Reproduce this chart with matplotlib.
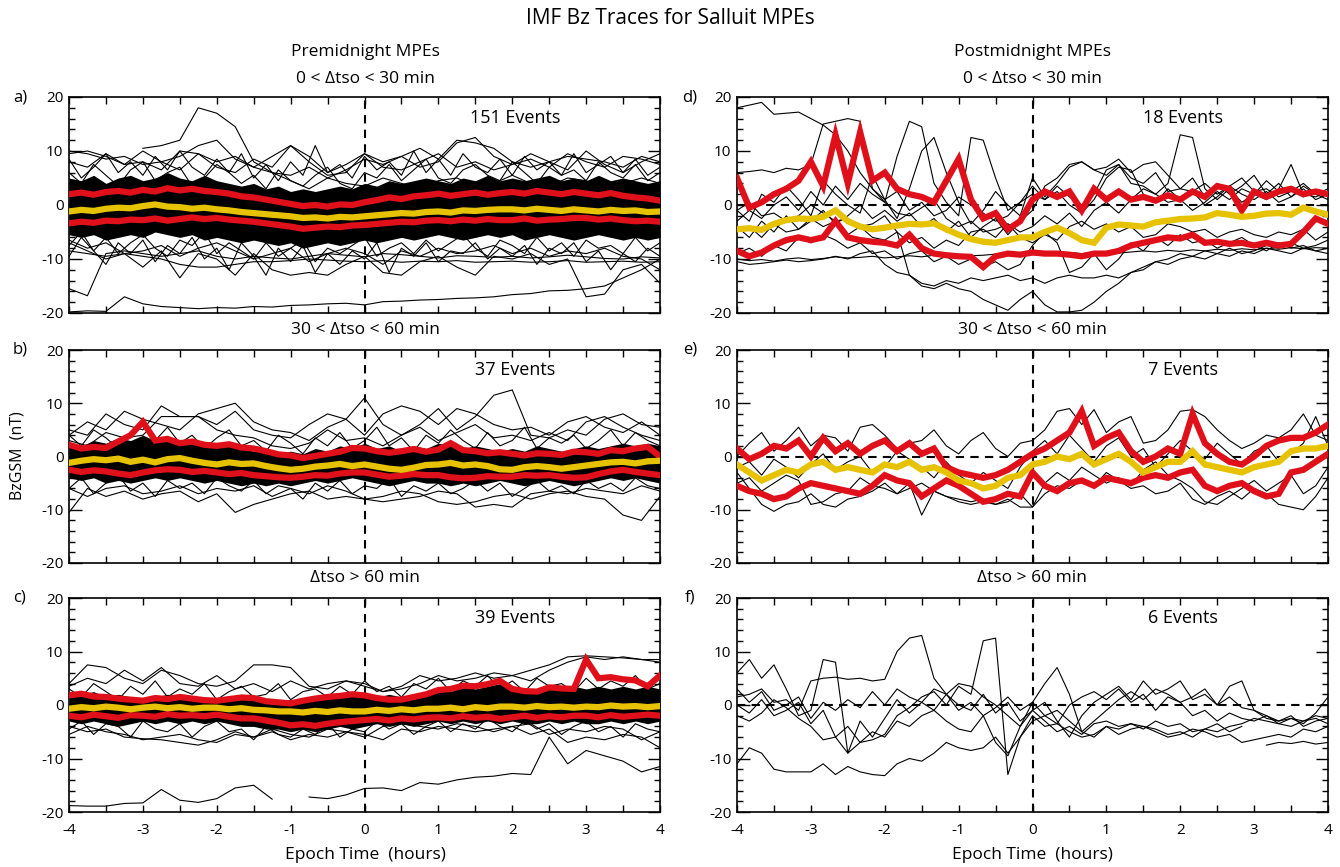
import numpy as np
import matplotlib
matplotlib.use('Agg')
import matplotlib.pyplot as plt
from matplotlib.ticker import MultipleLocator

plt.rcParams['font.family'] = ['Liberation Sans Narrow', 'Open Sans', 'DejaVu Sans']
plt.rcParams['axes.unicode_minus'] = False

nan = np.nan
# series are sampled evenly over -4..4 h: 33 values = 15 min steps, 49 values = 10 min steps

# ---------------- panel a : premidnight, 0 < dtso < 30 min ----------------
a_band_hi = [5.0, 4.5, 5.5, 4.0, 5.0, 5.5, 4.5, 5.0, 6.0, 5.0, 4.5, 5.5, 4.5, 4.0, 3.5, 4.0, 3.0, 3.5, 2.5, 3.0, 2.5, 3.0, 3.5, 3.0, 4.0, 3.5, 4.5, 4.0, 4.5, 5.0, 4.5, 4.0, 5.0, 4.5, 5.5, 4.5, 5.0, 4.5, 5.0, 5.5, 4.5, 5.0, 4.5, 5.5, 4.5, 5.0, 4.5, 4.0, 4.5]
a_band_lo = [-5.5, -6.0, -5.5, -6.5, -6.0, -5.5, -6.0, -5.0, -5.5, -6.0, -5.5, -6.5, -6.0, -6.5, -7.0, -6.5, -7.0, -7.5, -7.0, -8.0, -7.5, -7.0, -7.5, -7.0, -6.5, -7.0, -6.5, -6.0, -6.5, -6.0, -5.5, -6.0, -6.5, -6.0, -5.5, -6.0, -5.5, -6.5, -6.0, -5.5, -6.0, -6.5, -6.0, -5.5, -6.0, -6.5, -6.0, -6.5, -6.0]
a_tr1 = [10.0, 9.5, 8.5, 9.0, 7.5, 8.0, 9.0, 11.0, 12.0, 8.5, 7.0, 6.0, 5.5, 7.0, 5.0, 6.5, 8.5, 7.5, 9.0, 7.0, 8.0, 11.5, 12.5, 9.0, 7.5, 8.5, 7.0, 9.5, 8.0, 7.0, 9.0, 8.5, 7.5]
a_tr2 = [8.0, 7.0, 9.5, 7.5, 10.0, 8.0, 6.5, 9.5, 7.0, 6.0, 8.5, 7.0, 11.0, 8.0, 5.5, 6.0, 9.5, 7.0, 6.5, 8.0, 9.5, 7.0, 8.0, 6.5, 7.5, 9.5, 8.0, 6.5, 10.0, 7.5, 6.0, 8.0, 9.5]
a_tr3 = [nan, nan, nan, nan, 10.5, 11.0, 12.0, 18.0, 17.0, 14.5, 8.0, 6.0, 4.5, 3.0, 5.0, 4.0, 3.5, 5.0, 4.0, 3.0, 4.5, 5.0, 3.5, 4.0, 5.5, 4.0, 3.5, 5.0, 4.5, 3.0, 4.0, 5.0, 4.0]
a_tr4 = [-8.5, -9.0, -9.5, -9.0, -9.5, -10.0, -11.0, -11.5, -11.5, -11.0, -10.5, -10.5, -10.3, -10.0, -10.2, -10.4, -10.5, -10.3, -10.6, -10.4, -10.5, -10.3, -10.6, -10.5, -10.4, -10.6, -10.5, -10.3, -10.6, -10.5, -10.4, -10.6, -10.5]
a_tr5 = [-15.5, -16.8, -9.0, -8.5, -9.0, -9.5, -9.0, -8.5, -9.5, -10.0, -9.5, -9.8, -10.0, -9.5, -9.0, -9.3, -9.6, -9.0, -9.2, -9.5, -9.8, -9.4, -9.5, -9.7, -9.5, -9.8, -9.6, -9.3, -9.6, -9.9, -10.0, -9.6, -9.8]
a_tr6 = [-19.8, -19.6, -19.7, -17.0, -18.3, -18.8, -19.0, -19.2, -19.0, -19.1, -18.8, -18.9, -18.6, -18.5, -18.3, -18.2, -18.5, -17.9, -17.8, -17.6, -17.5, -17.3, -17.2, -17.0, -16.6, -16.4, -15.9, -15.8, -15.5, -15.0, -13.5, -12.0, -10.0]
a_tr7 = [-7.0, -8.5, -10.0, -9.0, -11.5, -8.5, -13.5, -9.0, -10.0, -13.0, -9.0, -12.0, -13.0, -12.5, -13.0, -11.0, -9.5, -12.5, -13.0, -10.5, -9.5, -11.5, -13.0, -9.5, -10.0, -9.0, -11.0, -10.0, -17.0, -16.5, -12.0, -11.0, -14.5]
a_tr8 = [-6.5, -8.0, -7.0, -9.0, -8.5, -7.5, -9.5, -8.0, -7.0, -8.5, -10.0, -9.0, -8.0, -10.5, -9.0, -8.0, -9.0, -11.0, -8.5, -9.5, -8.0, -9.0, -8.5, -7.5, -9.0, -8.0, -9.5, -8.5, -9.0, -8.0, -9.5, -10.0, -12.0]
a_tr9 = [9.5, 10.0, 9.0, 7.5, 8.0, 6.5, 10.0, 9.5, 8.0, 9.0, 7.0, 9.0, 11.0, 9.0, 6.0, 7.5, 9.5, 8.0, 9.0, 10.5, 8.5, 12.0, 11.5, 10.5, 8.0, 7.0, 8.0, 9.0, 8.5, 8.0, 7.0, 9.0, 8.0]
a_tr10 = [8.5, 5.0, 7.0, 9.5, 6.0, 8.0, 5.5, 9.0, 6.5, 10.0, 7.0, 5.5, 8.5, 6.0, 9.5, 5.0, 7.5, 4.5, 8.0, 5.5, 11.0, 6.0, 7.5, 5.0, 9.0, 6.5, 8.0, 5.5, 10.0, 6.0, 8.5, 5.5, 9.5, 7.0, 6.0, 8.5, 5.5, 9.0, 6.5, 8.0, 5.5, 9.5, 6.0, 7.5, 9.0, 6.0, 8.5, 5.5, 7.0]
a_tr11 = [-9.5, -6.0, -8.5, -11.0, -7.0, -9.0, -6.5, -10.5, -7.5, -9.0, -6.0, -10.0, -8.0, -12.0, -7.0, -9.5, -13.0, -8.0, -10.5, -7.5, -12.5, -9.0, -11.0, -8.5, -10.0, -7.0, -12.5, -8.0, -9.5, -7.0, -10.5, -8.5, -9.0, -7.0, -10.0, -8.0, -9.5, -7.5, -11.0, -8.0, -9.0, -7.0, -10.5, -8.5, -12.0, -9.0, -10.5, -8.0, -9.5]
a_tr12 = [6.0, 4.0, 7.5, 5.5, 3.5, 6.5, 8.0, 4.5, 6.0, 7.0, 3.5, 5.0, 7.5, 6.0, 4.0, 5.5, 3.0, 6.5, 4.5, 3.5, 5.5, 7.0, 4.0, 3.0, 6.0, 5.0, 7.5, 4.5, 6.5, 8.5, 5.0, 4.0, 6.5, 7.5, 5.5, 4.5, 8.0, 6.0, 4.0, 7.0, 5.5, 6.5, 4.5, 8.0, 6.0, 5.0, 7.5, 4.5, 6.0]
a_tr13 = [-7.5, -5.0, -8.5, -6.0, -9.0, -7.0, -5.5, -8.0, -9.5, -6.5, -7.5, -5.0, -9.0, -7.0, -8.5, -10.0, -7.0, -9.5, -8.0, -6.5, -10.5, -8.0, -9.0, -7.5, -6.0, -9.5, -8.0, -7.0, -9.0, -6.5, -8.5, -7.0, -5.5, -8.0, -9.5, -6.5, -7.5, -9.0, -6.0, -8.5, -7.0, -9.5, -6.5, -8.0, -7.5, -9.0, -6.0, -8.5, -7.0]
a_q75 = [2.0, 2.3, 1.9, 2.4, 2.6, 2.3, 2.8, 2.5, 3.1, 2.7, 3.0, 2.6, 2.4, 2.1, 1.6, 1.4, 1.0, 0.6, 0.2, -0.2, 0.0, -0.3, 0.1, 0.0, 0.5, 0.9, 1.4, 1.1, 1.6, 1.8, 2.1, 1.7, 2.0, 2.3, 1.9, 2.2, 2.4, 2.1, 2.6, 2.3, 2.0, 2.4, 2.1, 1.8, 2.2, 1.7, 1.4, 1.2, 0.8]
a_med = [-1.2, -0.9, -1.1, -0.7, -0.5, -0.6, -0.2, 0.1, -0.3, -0.4, -0.7, -0.5, -0.8, -1.0, -1.3, -1.5, -1.7, -1.9, -2.1, -2.4, -2.3, -2.5, -2.2, -2.3, -2.1, -1.9, -1.7, -1.5, -1.6, -1.3, -1.2, -1.4, -1.0, -1.1, -0.9, -0.8, -0.8, -1.0, -0.7, -0.9, -1.1, -0.8, -1.0, -1.2, -0.9, -1.1, -1.0, -1.3, -1.2]
a_q25 = [-3.4, -3.1, -3.3, -2.9, -3.0, -2.7, -2.8, -2.5, -2.9, -2.6, -2.3, -2.6, -2.4, -2.7, -2.9, -3.1, -3.4, -3.7, -4.0, -4.4, -4.2, -4.0, -4.1, -3.8, -3.7, -3.5, -3.3, -3.1, -3.2, -2.9, -2.8, -3.0, -2.7, -2.9, -2.6, -2.8, -2.8, -2.5, -2.9, -2.7, -2.6, -2.4, -2.4, -2.7, -2.5, -2.8, -3.0, -2.9, -3.1]

# ---------------- panel b : premidnight, 30 < dtso < 60 min ----------------
b_band_hi = [2.5, 2.0, 3.0, 2.5, 3.5, 3.0, 4.0, 3.0, 3.5, 2.5, 3.0, 2.0, 2.5, 2.0, 1.5, 1.0, 1.5, 0.5, 1.0, 0.5, 1.5, 1.0, 2.0, 1.5, 2.5, 1.5, 2.0, 1.0, 2.0, 1.5, 2.5, 2.0, 1.5, 2.0, 1.5, 1.0, 1.5, 1.0, 2.0, 1.5, 1.0, 1.5, 2.0, 1.5, 2.0, 2.5, 2.0, 2.5, 2.0]
b_band_lo = [-4.0, -4.5, -4.0, -5.0, -4.5, -5.0, -4.5, -4.0, -4.5, -4.0, -4.5, -5.0, -4.5, -5.0, -5.5, -5.0, -5.5, -5.0, -5.5, -5.0, -4.5, -5.0, -4.5, -4.0, -4.5, -5.0, -5.5, -5.0, -4.5, -5.0, -5.0, -5.5, -5.0, -5.5, -5.0, -4.5, -5.0, -5.5, -5.0, -4.5, -5.0, -5.5, -5.0, -4.5, -4.0, -4.5, -4.0, -4.5, -5.0]
b_tr1 = [5.0, 4.0, 8.0, 6.0, 5.0, 9.5, 7.5, 7.5, 6.0, 8.5, 5.0, 4.0, 3.5, 6.0, 8.0, 7.0, 11.0, 6.0, 4.0, 6.0, 9.0, 5.0, 7.5, 11.5, 12.5, 4.0, 3.5, 5.0, 4.0, 7.0, 8.0, 6.0, 5.5]
b_tr2 = [4.0, 6.5, 5.0, 8.5, 7.0, 6.0, 5.0, 8.0, 9.0, 10.0, 6.5, 5.0, 4.5, 3.0, 5.5, 7.0, 4.0, 8.0, 9.5, 8.5, 6.0, 9.0, 8.0, 6.0, 5.0, 5.5, 4.0, 6.5, 7.5, 5.5, 4.5, 6.5, 4.0]
b_tr3 = [-10.5, -6.0, -7.5, -6.5, -8.0, -7.0, -6.5, -8.5, -7.0, -10.5, -9.0, -8.0, -7.0, -6.5, -8.0, -7.5, -8.0, -7.5, -6.5, -7.0, -8.5, -9.0, -8.5, -7.5, -7.0, -8.0, -7.0, -6.5, -7.5, -8.0, -11.0, -12.0, -7.5]
b_tr4 = [-6.0, -7.5, -6.0, -5.5, -7.0, -6.5, -5.5, -7.0, -6.0, -6.5, -5.5, -7.5, -6.0, -7.0, -5.5, -6.5, -8.0, -8.5, -8.0, -7.5, -6.5, -7.0, -9.5, -9.0, -9.5, -7.0, -6.5, -7.0, -6.0, -6.5, -7.0, -5.5, -6.5]
b_tr5 = [3.0, 2.0, 4.5, 3.5, 4.0, 7.5, 7.5, 7.5, 5.0, 4.0, 3.5, 2.0, 1.5, 2.5, 5.0, 3.0, 3.5, 2.0, 4.0, 5.5, 3.0, 4.5, 6.0, 3.5, 4.0, 3.0, 4.5, 3.0, 6.5, 7.5, 5.5, 4.0, 3.0]
b_tr6 = [4.0, 2.0, 5.0, 3.5, 1.5, 4.5, 6.0, 3.0, 5.5, 2.5, 4.0, 1.5, 3.5, 5.0, 2.0, 3.0, 1.0, 4.0, 2.5, 0.5, 3.5, 2.0, 4.5, 1.5, 3.0, 5.5, 2.0, 3.5, 1.0, 4.0, 2.5, 5.0, 3.0, 1.5, 4.5, 2.0, 3.0, 5.5, 1.5, 3.5, 2.5, 4.0, 1.5, 3.0, 5.0, 2.0, 4.5, 3.0, 2.0]
b_tr7 = [-6.0, -4.0, -7.0, -5.0, -3.5, -6.5, -5.0, -7.5, -4.5, -6.0, -5.0, -7.0, -4.0, -5.5, -6.5, -4.5, -7.0, -5.5, -6.0, -8.0, -5.0, -6.5, -4.5, -7.0, -5.5, -6.0, -4.0, -7.5, -5.5, -6.5, -5.0, -7.0, -6.0, -4.5, -6.5, -5.0, -7.5, -6.0, -4.5, -6.5, -5.5, -7.0, -4.5, -6.0, -5.0, -6.5, -4.0, -5.5, -6.0]
b_q75 = [2.2, 1.5, 1.8, 1.6, 2.8, 4.0, 6.5, 3.0, 3.3, 2.5, 2.8, 2.2, 2.0, 2.3, 1.7, 1.5, 1.0, 0.4, 0.2, -0.3, 0.1, 0.5, 0.9, 1.6, 1.5, 1.0, 0.7, 1.0, 1.4, 0.9, 1.3, 2.5, 1.2, 1.0, 0.6, 0.8, 0.5, 0.2, 0.6, 0.5, 0.3, 0.9, 0.8, 0.5, 1.2, 1.0, 1.5, 1.8, 0.0]
b_med = [-1.2, -0.8, -0.5, -0.7, -0.4, -1.0, -0.6, -1.1, -0.5, -0.3, -0.8, -1.2, -1.5, -1.1, -1.4, -1.3, -1.8, -2.2, -2.5, -2.3, -1.9, -1.7, -1.4, -1.8, -1.5, -1.9, -2.3, -2.5, -2.1, -1.6, -1.5, -1.2, -1.7, -1.5, -1.8, -2.4, -2.5, -2.0, -1.8, -2.0, -2.3, -2.0, -1.7, -1.4, -1.1, -1.0, -1.3, -0.9, -0.8]
b_q25 = [-2.5, -2.9, -2.6, -2.8, -3.2, -3.5, -3.0, -2.6, -2.4, -2.5, -2.9, -2.7, -3.0, -3.3, -3.1, -3.5, -3.7, -3.9, -4.0, -3.8, -3.5, -3.6, -3.2, -3.0, -3.0, -3.4, -3.8, -3.6, -3.3, -3.5, -3.5, -3.9, -4.1, -4.0, -3.7, -3.8, -3.8, -3.5, -3.6, -3.5, -3.8, -4.0, -3.9, -3.3, -2.8, -2.5, -2.9, -3.2, -3.5]

# ---------------- panel c : premidnight, dtso > 60 min ----------------
c_band_hi = [2.5, 2.0, 2.5, 1.5, 2.0, 1.5, 1.0, 1.5, 2.0, 1.5, 1.0, 1.5, 1.0, 1.5, 2.0, 1.5, 1.0, 0.5, 1.0, 0.5, 1.0, 1.5, 2.0, 2.5, 2.0, 1.5, 2.0, 1.5, 2.0, 2.5, 3.0, 2.5, 3.5, 3.0, 3.5, 4.0, 3.0, 2.5, 3.0, 3.5, 3.0, 3.5, 3.0, 3.5, 3.0, 3.5, 3.0, 3.5, 3.0]
c_band_lo = [-3.0, -3.5, -3.0, -3.5, -4.0, -3.5, -3.0, -3.5, -3.0, -3.5, -3.0, -3.5, -3.0, -3.5, -4.0, -4.0, -4.5, -4.5, -5.0, -4.5, -5.0, -4.5, -4.0, -4.5, -4.0, -3.5, -4.0, -3.5, -4.0, -3.5, -3.0, -3.5, -3.0, -3.5, -3.0, -3.5, -3.0, -3.5, -3.5, -3.0, -3.5, -3.0, -3.5, -3.5, -3.0, -3.5, -3.0, -3.5, -3.0]
c_tr1 = [-18.8, -18.9, -18.9, -18.4, -18.3, -15.8, -17.8, -18.2, -17.5, -15.5, -15.0, -17.6, nan, -17.2, -17.5, -16.8, -15.6, -15.5, -16.0, -14.5, -14.8, -14.0, -13.5, -13.3, -12.8, -13.0, -6.0, -11.0, -8.5, -9.5, -10.5, -12.5, -11.5]
c_tr2 = [4.0, 7.5, 7.0, 5.0, 4.0, 6.5, 5.5, 4.0, 3.5, 4.5, 7.5, 7.5, 7.0, 3.5, 3.0, 4.5, 3.5, 2.5, 3.0, 4.0, 5.5, 4.5, 5.0, 6.0, 5.5, 6.5, 7.5, 9.0, 9.2, 9.0, 8.8, 8.5, 8.0]
c_tr3 = [3.5, 5.0, 4.0, 6.5, 4.5, 7.0, 4.0, 3.5, 5.5, 3.0, 4.0, 2.5, 4.5, 3.0, 4.0, 4.5, 4.0, 2.5, 3.5, 5.5, 4.5, 5.0, 6.0, 5.0, 5.5, 4.5, 6.5, 8.0, 9.0, 8.5, 9.0, 8.5, 8.5]
c_tr4 = [-5.5, -4.0, -5.0, -5.5, -6.5, -6.0, -5.5, -6.5, -7.0, -5.5, -6.0, -5.0, -6.5, -5.5, -6.0, -5.0, -5.5, -6.5, -4.5, -5.0, -4.0, -4.5, -5.0, -4.5, -4.0, -5.5, -4.5, -7.0, -6.0, -6.5, -5.5, -6.0, -8.0]
c_tr5 = [-4.0, -5.0, -4.5, -6.0, -6.3, -6.5, -7.0, -7.5, -6.5, -5.0, -6.0, -4.5, -5.5, -6.0, -4.5, -5.0, -6.0, -4.0, -3.5, -4.0, -4.5, -3.5, -4.0, -5.0, -4.0, -3.5, -5.5, -4.5, -5.0, -4.0, -4.5, -6.5, -5.0]
c_tr6 = [3.0, 1.5, 4.0, 2.5, 1.0, 3.5, 2.0, 4.5, 1.5, 3.0, 2.0, 4.0, 1.0, 2.5, 3.5, 1.5, 2.0, 4.0, 1.0, 2.5, 3.0, 1.5, 3.5, 2.0, 4.5, 2.5, 3.5, 1.5, 4.0, 3.0, 5.0, 2.5, 4.5, 3.5, 5.5, 3.0, 4.5, 2.5, 5.0, 3.5, 4.0, 2.5, 5.0, 3.0, 4.5, 3.5, 5.5, 3.0, 4.0]
c_tr7 = [-4.5, -3.0, -5.5, -3.5, -4.0, -6.0, -3.0, -4.5, -5.0, -3.5, -6.0, -4.0, -3.0, -5.0, -4.5, -6.5, -4.0, -5.5, -6.0, -4.5, -5.5, -3.5, -6.0, -4.5, -5.0, -3.0, -4.5, -3.5, -5.5, -4.0, -3.0, -5.0, -3.5, -4.5, -2.5, -4.0, -5.0, -3.0, -4.5, -3.5, -5.5, -4.0, -3.0, -5.0, -4.0, -6.0, -3.5, -4.5, -5.0]
c_q75 = [1.8, 2.1, 1.6, 1.5, 1.2, 1.0, 0.8, 1.3, 1.1, 1.5, 1.2, 0.9, 0.8, 1.1, 1.4, 1.3, 0.7, 0.5, 0.3, 0.8, 1.2, 1.5, 1.7, 2.0, 1.8, 1.3, 1.0, 1.0, 1.5, 2.0, 2.8, 3.0, 3.6, 3.5, 3.9, 4.5, 3.0, 2.6, 2.5, 3.3, 3.1, 3.0, 8.5, 5.0, 5.2, 4.8, 4.6, 3.5, 5.5]
c_med = [-0.7, -0.4, -0.6, -0.3, -0.5, -0.8, -0.5, -0.3, -0.6, -0.4, -0.7, -0.5, -0.5, -0.8, -0.6, -0.9, -1.0, -1.2, -1.2, -1.4, -1.1, -1.3, -1.0, -1.2, -1.2, -0.9, -1.1, -0.8, -1.0, -0.7, -0.7, -0.5, -0.8, -0.4, -0.6, -0.3, -0.3, -0.5, -0.2, -0.4, -0.3, -0.5, -0.3, -0.4, -0.1, -0.3, -0.2, -0.4, -0.2]
c_q25 = [-2.0, -2.3, -1.8, -2.1, -2.4, -1.9, -2.0, -2.2, -1.7, -2.0, -1.9, -2.1, -1.8, -2.2, -2.5, -2.5, -2.9, -3.3, -3.8, -3.6, -3.9, -3.5, -3.2, -3.0, -2.8, -2.6, -2.9, -2.5, -2.7, -2.4, -2.3, -2.5, -2.1, -2.4, -2.2, -2.6, -2.3, -2.0, -2.4, -2.1, -2.3, -2.0, -2.0, -2.3, -1.9, -2.2, -2.0, -1.8, -2.0]

# ---------------- panel d : postmidnight, 0 < dtso < 30 min ----------------
d_tr1 = [18.0, 18.5, 19.0, 16.8, 17.0, 17.2, 16.0, 14.8, 13.0, 10.0, 6.0, 3.0, 1.0, 2.5, -1.0, 0.5, -2.0, -1.0, 1.5, 0.0, -1.5, -3.0, -2.0, 0.5, 2.0, 1.0, 3.5, 1.5, 0.0, 2.0, 6.5, 7.5, 4.0, 3.5, 2.0, 0.5, 1.0, -1.0, 0.5, 2.5, 1.0, 3.0, 2.0, 4.5, 2.5, 3.0, 1.5, 2.5, 2.0]
d_tr2 = [-10.0, -10.3, -10.1, -10.4, -10.0, -9.8, -10.1, -9.9, -9.6, -9.8, -9.7, -9.5, -9.8, -9.6, -9.4, -9.6, -9.3, -9.5, -9.2, -9.4, -9.3, -9.1, -9.3, -9.0, -9.2, -8.9, -9.1, -8.8, -9.0, -8.8, -8.6, -8.9, -8.7, -8.5, -8.7, -8.4, -8.6, -8.3, -8.5, -8.2, -8.4, -8.1, -8.3, -8.0, -8.2, -7.9, -8.1, -7.9, -8.0]
d_tr3 = [6.0, 6.2, 6.5, 6.0, 6.8, 6.5, 7.5, 15.0, 15.5, 16.0, 15.5, 3.0, 0.5, -1.5, -2.0, -0.5, 1.0, -2.5, -4.0, -3.0, -5.0, -4.5, -3.5, -6.0, -7.0, -5.5, -6.5, -4.0, -3.0, -4.5, -3.5, -5.0, -4.0, -6.0, -5.5, -3.5, -4.0, -5.0, -4.5, -6.0, -5.0, -4.5, -5.5, -6.0, -5.0, -5.5, -4.5, -6.5, -5.0]
d_tr4 = [-3.0, -1.0, -2.5, 0.0, 1.5, -1.0, 2.5, 0.0, 3.5, 1.0, 4.0, 2.0, 0.5, 9.0, 15.5, 14.5, 4.0, 0.5, -2.0, 12.5, 12.0, 5.0, -1.0, 0.5, 3.5, 1.0, 2.5, 0.0, -1.5, 1.0, 5.0, 7.0, 6.5, 2.0, 0.5, 3.0, 1.0, 2.5, 0.0, 1.5, 3.5, 2.0, 1.0, 2.5, 0.5, 1.5, 3.0, 1.0, 2.0]
d_tr5 = [-1.0, 0.5, -2.0, -1.5, -3.0, -2.0, 0.0, -1.5, -3.0, -2.5, -4.0, -3.5, -2.0, -5.0, -13.0, -15.0, -15.5, -14.5, -15.5, -16.0, -17.5, -18.5, -19.5, -17.5, -16.0, -18.5, -19.8, -19.8, -19.5, -18.0, -16.0, -14.5, -12.5, -11.5, -10.5, -10.0, -9.0, -9.5, -8.5, -9.0, -8.0, -9.0, -8.5, -7.5, -8.0, -7.0, -8.0, -7.5, -6.5]
d_tr6 = [-5.0, -4.0, -6.0, -3.5, -5.0, -4.5, -2.5, -4.0, -3.0, -5.5, -4.0, -6.0, -6.5, -5.0, -7.0, -6.0, -8.0, -6.5, -7.5, -5.0, -4.5, -6.0, -3.5, -5.0, -4.0, -2.0, -3.5, -1.5, -4.0, -1.0, 0.5, -1.5, 1.0, 3.0, 2.0, 4.0, 13.0, 12.5, 3.0, 1.0, 3.0, 0.5, 2.0, 1.0, 3.0, 7.5, 2.0, 1.5, 2.5]
d_tr7 = [-10.5, -11.0, -10.8, -10.5, -10.2, -10.5, -10.3, -10.0, -9.5, -10.0, -9.0, -8.5, -11.0, -12.5, -13.0, -14.5, -15.0, -14.0, -14.5, -13.5, -14.0, -13.5, -13.0, -14.0, -13.5, -14.5, -13.5, -13.0, -13.5, -13.5, -13.0, -13.5, -12.5, -12.0, -10.5, -11.0, -10.0, -9.5, -10.0, -9.0, -9.5, -8.5, -9.0, -8.0, -8.5, -9.0, -8.0, -8.5, -8.0]
d_tr8 = [-1.0, -3.0, 2.0, 0.5, 3.5, 1.0, -2.0, 4.5, 2.0, 0.0, -1.5, 5.5, 1.0, -2.5, 3.0, 10.0, 12.5, 6.0, 0.5, -3.5, -1.0, 2.5, 0.0, -2.0, 5.0, 1.5, 4.0, 7.0, 8.0, 6.5, 5.5, 7.5, 5.0, 4.0, 6.0, 2.5, 3.0, 5.0, 1.5, 4.0, 2.0, 3.5, 5.5, 2.0, 4.0, 1.5, 3.5, 2.0, 1.0]
d_tr9 = [-4.0, -6.0, -3.0, -5.0, -2.0, -4.5, -3.0, -1.0, -3.5, -2.0, 0.0, -2.5, -1.0, -3.0, -1.5, -4.0, -2.5, -5.0, -3.0, -6.0, -4.0, -2.5, -5.5, -3.0, -1.0, 3.5, 5.0, 7.5, 8.0, 6.5, 7.0, 8.5, 6.0, 7.5, 8.0, 5.5, 3.0, 2.5, 4.0, 2.0, 3.5, 5.0, 2.5, 3.0, 1.5, 2.5, 4.0, 2.0, 3.0]
d_tr10 = [-9.0, -8.0, -9.5, -7.5, -8.5, -6.0, -7.0, -5.5, -6.5, -8.0, -7.0, -9.0, -8.5, -10.0, -9.0, -8.5, -10.5, -9.5, -11.0, -10.0, -11.5, -10.5, -12.0, -11.0, -7.5, -5.0, -7.0, -12.5, -11.5, -9.0, -12.0, -10.0, -7.0, -8.5, -6.0, -7.5, -5.5, -7.0, -6.5, -8.0, -7.0, -6.0, -7.5, -8.5, -7.0, -8.0, -7.5, -8.5, -9.0]
d_q75 = [5.0, -0.5, 0.5, 2.0, 3.0, 4.5, 8.0, 3.5, 13.0, 4.0, 13.5, 4.5, 6.0, 3.0, 2.0, 1.5, 0.5, 4.5, 8.5, 1.0, -2.5, -1.5, -4.5, -3.0, 1.0, 2.5, 1.5, 2.5, -1.0, 3.0, 1.0, 2.5, 1.0, 1.5, 0.8, 1.8, 1.0, 2.5, 1.5, 3.5, 3.0, -1.0, 2.5, 1.5, 2.5, 3.0, 2.0, 2.5, 2.0]
d_med = [-4.5, -4.3, -4.6, -3.5, -2.8, -2.5, -2.6, -2.2, -1.0, -3.0, -4.0, -4.5, -4.2, -3.8, -3.5, -3.6, -3.4, -4.5, -5.5, -6.3, -6.8, -7.0, -6.5, -6.0, -6.0, -5.0, -4.2, -5.2, -6.5, -7.0, -4.2, -3.6, -3.8, -4.0, -3.2, -2.9, -2.6, -2.5, -2.3, -1.5, -1.8, -2.2, -2.0, -1.6, -1.5, -1.8, -0.5, -1.2, -1.8]
d_q25 = [-8.5, -9.5, -8.8, -7.5, -6.5, -6.0, -6.5, -6.0, -3.0, -6.0, -6.5, -6.8, -7.0, -7.5, -5.5, -8.0, -9.0, -9.3, -9.5, -9.6, -11.5, -9.5, -9.0, -9.2, -8.8, -9.0, -9.0, -9.2, -9.5, -9.0, -9.0, -8.5, -7.5, -7.0, -6.5, -6.0, -6.2, -5.5, -7.0, -6.8, -7.2, -7.0, -7.5, -7.0, -7.5, -7.2, -5.0, -2.5, -3.5]

# ---------------- panel e : postmidnight, 30 < dtso < 60 min ----------------
e_tr1 = [-3.0, -6.0, -9.0, -10.3, -9.0, -8.5, -7.0, -9.0, -9.5, -8.0, -7.5, -6.5, -5.0, -7.0, -6.0, -5.0, -6.5, -7.5, -8.5, -9.0, -8.5, -9.0, -8.0, -9.5, -9.5, -7.0, -5.5, -6.0, -4.5, -5.5, -3.0, -4.5, -6.0, -5.5, -7.0, -6.5, -5.0, -8.0, -9.0, -7.5, -6.5, -8.0, -6.0, -7.0, -9.0, -9.5, -10.0, -7.5, -4.0]
e_tr2 = [0.0, 2.5, 4.5, 1.0, 3.0, 5.5, 2.0, 4.0, 3.5, 1.0, 5.5, 6.0, 4.0, 1.5, 2.5, 3.0, 5.0, 2.0, 0.5, 3.0, 4.5, 1.5, 0.0, 2.5, 3.0, 5.0, 8.5, 9.0, 6.0, 8.8, 4.5, 6.5, 7.5, 2.5, 3.0, 5.0, 8.5, 8.8, 7.5, 5.0, 3.0, 1.5, 2.5, 4.0, 3.5, 5.0, 8.0, 4.0, 3.0]
e_tr3 = [-5.0, -4.0, -6.5, -5.0, -3.5, -4.5, -9.0, -8.5, -7.0, -6.5, -4.0, -5.5, -6.0, -7.0, -5.0, -11.0, -6.5, -7.5, -8.0, -8.5, -8.0, -9.0, -8.5, -7.0, -9.5, -5.0, -3.0, -4.5, -2.0, -3.5, -5.0, -4.0, -5.5, -2.5, -1.0, -3.5, -4.5, -6.0, -8.5, -9.0, -7.5, -6.0, -4.5, -6.5, -5.0, -3.5, -7.0, -5.5, -2.0]
e_tr4 = [-2.0, -1.0, -3.5, -0.5, -2.0, -4.0, -1.5, 0.5, -2.5, -1.0, 0.0, -3.0, -2.0, 1.0, -0.5, -2.0, -4.0, -1.0, -3.5, -5.0, -3.0, -4.5, -6.0, -2.0, 1.0, 3.0, 0.5, 4.0, 1.5, -1.0, 2.0, 3.5, 0.0, 1.5, -2.0, 0.5, 3.0, 1.0, -0.5, 2.5, 0.5, -1.5, 1.0, 2.0, -1.0, 0.5, 2.5, 7.5, 2.0]
e_q75 = [1.5, -0.5, 0.5, 2.0, 1.5, 3.0, 0.0, 3.5, 1.0, 2.5, 0.5, 2.0, 3.0, 1.0, 2.5, 0.5, 1.5, -2.0, -3.0, -3.5, -4.0, -3.5, -2.5, -1.0, 0.5, 1.5, 3.0, 4.5, 8.5, 2.0, 3.5, 4.5, 1.0, -1.0, 0.0, 1.5, 0.5, 8.0, 2.5, 0.5, -1.0, -1.5, 0.0, 2.0, 3.0, 3.5, 3.5, 4.5, 6.0]
e_med = [-1.5, -3.0, -4.5, -3.5, -2.5, -3.0, -1.5, -1.0, -2.5, -2.0, -2.5, -3.0, -1.5, -2.0, -1.0, -2.5, -2.0, -3.0, -4.5, -5.0, -6.0, -5.5, -4.0, -3.5, -1.5, -1.0, 0.0, -0.5, 0.5, -1.5, -0.5, 0.5, -1.0, -3.0, -2.0, -1.0, -1.0, 1.0, -1.5, -2.0, -2.5, -3.0, -2.0, -1.5, -1.0, 1.0, 1.5, 1.5, 2.0]
e_q25 = [-5.5, -6.5, -7.0, -8.0, -7.5, -6.0, -5.0, -5.5, -6.0, -6.5, -7.0, -5.5, -3.5, -4.5, -5.0, -7.5, -6.0, -4.5, -5.5, -7.0, -8.5, -8.0, -7.0, -7.5, -3.0, -5.5, -6.5, -5.0, -4.5, -5.5, -4.0, -4.5, -5.0, -4.0, -3.5, -4.0, -3.0, -2.5, -5.5, -6.5, -5.5, -5.0, -6.5, -7.5, -7.0, -3.0, -2.5, -1.0, 0.5]

# ---------------- panel f : postmidnight, dtso > 60 min ----------------
f_tr1 = [-11.0, -8.0, -9.0, -12.0, -12.5, -12.5, -12.5, -11.0, -13.0, -11.5, -12.5, -13.0, -13.2, -11.0, -10.0, -10.5, -9.0, -7.0, -8.0, -8.5, -8.0, -6.0, -9.0, -6.0, -3.0, -2.0, -1.0, -3.0, -5.0, -6.0, -4.0, -5.5, -4.5, -4.0, -5.0, -6.0, -5.5, -4.5, -5.0, -6.0, -5.5, -7.0, -6.5, -6.0, -5.5, -6.0, -4.5, -5.0, -4.0]
f_tr2 = [6.0, 8.5, 5.0, 7.5, 3.0, -2.0, -1.0, 8.5, 8.0, -9.0, -3.0, -6.0, -2.5, 1.0, -1.5, 0.5, 3.0, 2.0, -1.0, 0.5, -2.0, -0.5, 1.5, -1.0, 0.5, -2.0, -3.5, 0.0, 1.5, 2.5, 1.0, 3.0, 0.5, 2.0, -1.0, 1.5, 0.5, -2.0, -1.0, -3.0, -1.5, -2.5, -3.0, -2.0, -3.5, -2.5, -3.0, -2.0, -2.5]
f_tr3 = [1.5, 2.0, 3.0, 0.5, 1.0, -1.0, 4.5, 5.0, 5.2, 4.8, 5.0, 4.5, 4.8, 10.0, 12.5, 13.0, 5.0, 2.0, 0.0, -1.0, 2.0, -1.5, 0.5, -3.0, -1.0, -3.0, -5.0, -4.0, -5.5, -3.5, -3.0, -4.0, -3.5, -4.5, -3.0, -4.0, -3.5, -5.0, -4.5, -3.5, -5.0, -4.0, nan, -7.5, -7.0, -7.2, -6.8, -7.3, -7.0]
f_tr4 = [0.0, -1.5, 1.0, -2.0, -1.0, 0.5, -3.5, -1.0, -6.0, -4.0, -7.0, -6.5, -5.5, -2.0, -0.5, 1.5, 2.5, 0.0, 3.5, 2.0, 12.0, 12.5, -13.0, -6.0, -2.0, -4.0, -3.5, -5.0, -6.0, -5.5, -4.0, -4.5, -3.5, -4.0, -4.5, -5.5, -5.0, -6.0, -4.5, -5.0, -4.0, -3.5, -2.5, -3.0, -3.5, -4.0, -3.0, -2.5, -3.5]
f_tr5 = [3.0, 0.5, 2.5, -1.0, 0.0, 1.5, -2.5, 0.5, -1.0, 1.0, -0.5, 2.5, 0.0, 3.0, 1.5, 0.5, -1.0, 2.0, 4.0, 3.5, 1.5, 0.0, -2.0, -4.0, 0.5, 4.0, 7.0, 2.0, -5.0, -3.0, -1.0, 1.0, 2.5, 1.0, 3.0, 2.0, 0.5, 1.5, 3.0, 0.0, 1.5, -0.5, -1.0, -2.0, -3.0, -2.5, -3.5, -1.5, 1.5]
f_tr6 = [-2.0, -3.0, -1.5, 1.0, -0.5, -2.5, -4.0, -6.5, -6.0, -9.0, -7.0, -5.0, -6.0, -3.0, -4.0, -2.0, -1.0, -3.0, -4.5, -5.0, -2.0, -7.0, -9.5, -4.0, -1.0, 0.5, -3.0, -6.0, -2.0, 0.5, 2.0, 3.5, 1.0, 4.5, 2.0, 3.0, 4.5, 1.0, 2.0, 0.0, 3.5, 4.5, -1.0, -2.5, -3.0, -2.0, -4.0, -3.0, -2.5]

event_counts = [151, 37, 39, 18, 7, 6]
panel_letters = ['a)', 'b)', 'c)', 'd)', 'e)', 'f)']
row_titles = ['0 < \u0394tso < 30 min', '30 < \u0394tso < 60 min', '\u0394tso > 60 min']
col_titles = ['Premidnight MPEs', 'Postmidnight MPEs']

panels = [
    dict(band=(a_band_lo, a_band_hi),
         traces=[a_tr1, a_tr2, a_tr3, a_tr4, a_tr5, a_tr6, a_tr7, a_tr8, a_tr9,
                 a_tr10, a_tr11, a_tr12, a_tr13],
         quart=(a_q75, a_q25, a_med)),
    dict(band=(b_band_lo, b_band_hi),
         traces=[b_tr1, b_tr2, b_tr3, b_tr4, b_tr5, b_tr6, b_tr7], quart=(b_q75, b_q25, b_med)),
    dict(band=(c_band_lo, c_band_hi),
         traces=[c_tr1, c_tr2, c_tr3, c_tr4, c_tr5, c_tr6, c_tr7], quart=(c_q75, c_q25, c_med)),
    dict(band=None,
         traces=[d_tr1, d_tr2, d_tr3, d_tr4, d_tr5, d_tr6, d_tr7, d_tr8, d_tr9, d_tr10],
         quart=(d_q75, d_q25, d_med)),
    dict(band=None, traces=[e_tr1, e_tr2, e_tr3, e_tr4], quart=(e_q75, e_q25, e_med)),
    dict(band=None, traces=[f_tr1, f_tr2, f_tr3, f_tr4, f_tr5, f_tr6], quart=None),
]


def hours(series):
    return np.linspace(-4, 4, len(series))


RED = '#e0101a'
YELLOW = '#e6c200'
W, H = 1340, 867

fig = plt.figure(figsize=(13.4, 8.67), dpi=100)

lefts = [69, 737]
tops = [97, 350, 598]
bottoms = [313, 563, 812]
width = 591

for k, p in enumerate(panels):
    col, row = divmod(k, 3)
    ax = fig.add_axes([lefts[col] / W, 1 - bottoms[row] / H,
                       width / W, (bottoms[row] - tops[row]) / H])
    ax.axvline(0, color='k', lw=1.5, ls=(0, (4, 3)), zorder=1)
    ax.axhline(0, color='k', lw=1.5, ls=(0, (4, 3)), zorder=1)
    if p['band'] is not None:
        lo, hi = p['band']
        ax.fill_between(hours(lo), lo, hi, color='k', lw=0, zorder=2)
    for tr in p['traces']:
        ax.plot(hours(tr), tr, color='k', lw=0.8, zorder=2)
    if p['quart'] is not None:
        q75, q25, med = p['quart']
        ax.plot(hours(q75), q75, color=RED, lw=4.5, zorder=3, solid_joinstyle='miter')
        ax.plot(hours(q25), q25, color=RED, lw=4.5, zorder=3, solid_joinstyle='miter')
        ax.plot(hours(med), med, color=YELLOW, lw=4.5, zorder=4, solid_joinstyle='miter')

    ax.set_xlim(-4, 4)
    ax.set_ylim(-20, 20)
    ax.xaxis.set_major_locator(MultipleLocator(1))
    ax.xaxis.set_minor_locator(MultipleLocator(0.5))
    ax.yaxis.set_major_locator(MultipleLocator(10))
    ax.yaxis.set_minor_locator(MultipleLocator(2))
    ax.tick_params(which='both', direction='in', top=True, right=True, width=1, labelsize=11)
    ax.tick_params(axis='x', which='both', length=5, pad=8)
    ax.tick_params(axis='y', which='major', length=9, pad=4)
    ax.tick_params(axis='y', which='minor', length=4)
    for s in ax.spines.values():
        s.set_linewidth(1.2)
    if row < 2:
        ax.tick_params(labelbottom=False)

    ax.text(0.755, 0.905, '%d Events' % event_counts[k], transform=ax.transAxes,
            ha='center', va='center', fontsize=13)
    fig.text((20 if col == 0 else 690) / W, 1 - tops[row] / H, panel_letters[k],
             ha='center', va='center', fontsize=12)

col_centers = [365, 1032]
row_title_y = [79, 330, 578]
for col in range(2):
    fig.text(col_centers[col] / W, 1 - 52 / H, col_titles[col], ha='center', va='center', fontsize=12.5)
    for row in range(3):
        fig.text(col_centers[col] / W, 1 - row_title_y[row] / H, row_titles[row],
                 ha='center', va='center', fontsize=12.5)
    fig.text(col_centers[col] / W, 1 - 855 / H, 'Epoch Time  (hours)', ha='center', va='center', fontsize=12.5)

fig.text(670 / W, 1 - 18 / H, 'IMF Bz Traces for Salluit MPEs', ha='center', va='center', fontsize=15)
fig.text(18 / W, 1 - 456 / H, 'BzGSM  (nT)', ha='center', va='center', rotation=90, fontsize=11.5)

fig.savefig('out.png', dpi=100)
